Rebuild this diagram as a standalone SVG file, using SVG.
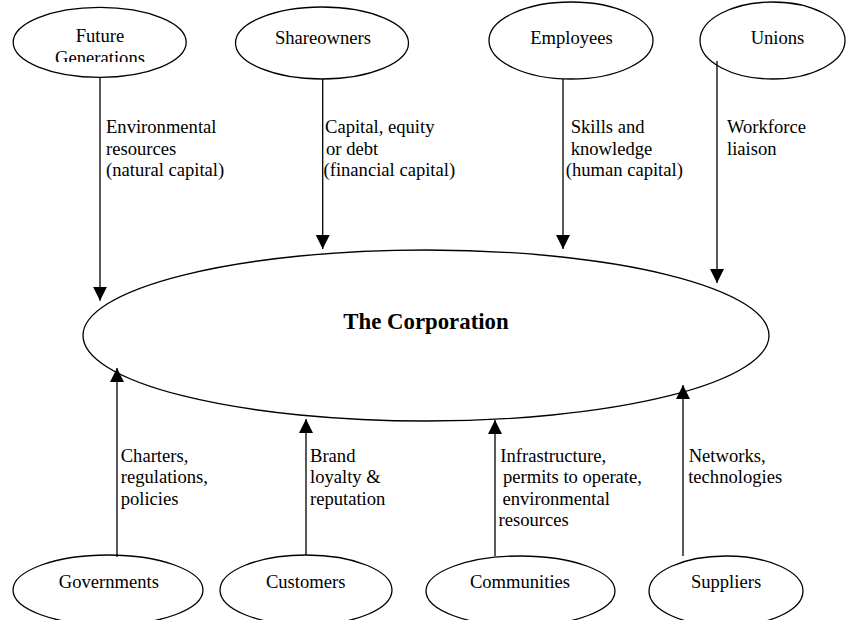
<svg xmlns="http://www.w3.org/2000/svg" width="846" height="620" viewBox="0 0 846 620">
<style>
.node{fill:#fff;stroke:#000;stroke-width:1.3}
.t{font-family:"Liberation Serif","Times New Roman",serif;font-size:18.6px;fill:#000}
.c{text-anchor:middle}
.title{font-family:"Liberation Serif","Times New Roman",serif;font-size:22.8px;font-weight:bold;fill:#000;text-anchor:middle}
.edge{stroke:#000;stroke-width:1.3;fill:none;marker-end:url(#ah)}
</style>
<defs>
<marker id="ah" markerUnits="userSpaceOnUse" markerWidth="14" markerHeight="14" refX="14" refY="7" orient="auto">
<path d="M0,0 L14,7 L0,14 Z" fill="#000"/>
</marker>
<clipPath id="fgclip"><rect x="0" y="0" width="846" height="62"/></clipPath>
</defs>
<rect width="846" height="620" fill="#fff"/>

<g id="corporation">
<ellipse class="node" cx="426" cy="335.5" rx="343" ry="85.5"/>
<text class="title" x="426" y="329">The Corporation</text>
</g>

<g id="future-generations">
<ellipse class="node" cx="99.7" cy="42.3" rx="86.5" ry="35"/>
<text class="t c" x="100" y="42">Future</text>
<text class="t c" x="100" y="63.5" clip-path="url(#fgclip)">Generations</text>
</g>
<g id="shareowners">
<ellipse class="node" cx="322" cy="43" rx="86.5" ry="36"/>
<text class="t c" x="323" y="44.3">Shareowners</text>
</g>
<g id="employees">
<ellipse class="node" cx="571" cy="40.5" rx="82" ry="38.5"/>
<text class="t c" x="571.5" y="44.3">Employees</text>
</g>
<g id="unions">
<ellipse class="node" cx="772.5" cy="40.5" rx="72.5" ry="38.5"/>
<text class="t c" x="777.5" y="44.3">Unions</text>
</g>

<g id="governments">
<ellipse class="node" cx="108" cy="590" rx="95" ry="35"/>
<text class="t c" x="108.8" y="588">Governments</text>
</g>
<g id="customers">
<ellipse class="node" cx="306" cy="590" rx="86" ry="35"/>
<text class="t c" x="305.7" y="588">Customers</text>
</g>
<g id="communities">
<ellipse class="node" cx="520.5" cy="591" rx="94.5" ry="35"/>
<text class="t c" x="520" y="588">Communities</text>
</g>
<g id="suppliers">
<ellipse class="node" cx="726" cy="591" rx="77" ry="35"/>
<text class="t c" x="726" y="588">Suppliers</text>
</g>

<g id="connectors">
<line class="edge" x1="100" y1="77.3" x2="100" y2="300.7"/>
<line class="edge" x1="322.7" y1="79" x2="322.7" y2="249"/>
<line class="edge" x1="563" y1="79" x2="563" y2="249"/>
<line class="edge" x1="717" y1="61" x2="717" y2="283"/>
<line class="edge" x1="117" y1="557" x2="117" y2="368"/>
<line class="edge" x1="306" y1="555" x2="306" y2="419"/>
<line class="edge" x1="495" y1="556" x2="495" y2="420"/>
<line class="edge" x1="683" y1="556" x2="683" y2="385"/>

<g id="labels">
<text class="t" x="106" y="133">Environmental</text>
<text class="t" x="106" y="154.5">resources</text>
<text class="t" x="106" y="176">(natural capital)</text>

<text class="t" x="325" y="133">Capital, equity</text>
<text class="t" x="326" y="154.5">or debt</text>
<text class="t" x="323.5" y="176">(financial capital)</text>

<text class="t" x="570.7" y="133">Skills and</text>
<text class="t" x="570.7" y="154.5">knowledge</text>
<text class="t" x="565.7" y="176">(human capital)</text>

<text class="t" x="727" y="133">Workforce</text>
<text class="t" x="727" y="154.5">liaison</text>

<text class="t" x="120.7" y="461.5">Charters,</text>
<text class="t" x="120.7" y="483">regulations,</text>
<text class="t" x="120.7" y="504.5">policies</text>

<text class="t" x="310" y="461.5">Brand</text>
<text class="t" x="310" y="483">loyalty &amp;</text>
<text class="t" x="310" y="504.5">reputation</text>

<text class="t" x="500.3" y="461.5">Infrastructure,</text>
<text class="t" x="503" y="483">permits to operate,</text>
<text class="t" x="502.5" y="504.5">environmental</text>
<text class="t" x="498.5" y="526">resources</text>

<text class="t" x="688.7" y="461.5">Networks,</text>
<text class="t" x="688.2" y="483">technologies</text>
</g>
</g>
</svg>
